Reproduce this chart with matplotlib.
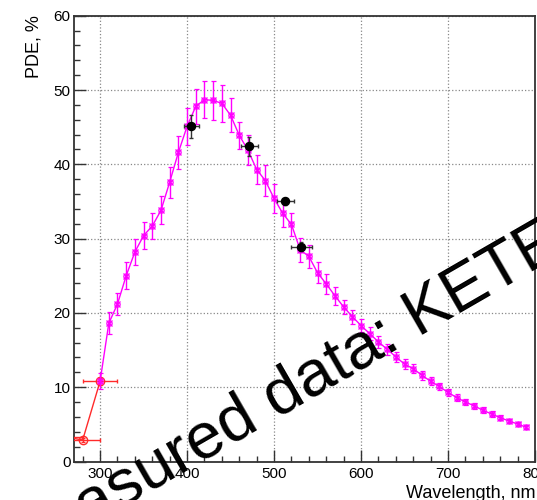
import matplotlib
matplotlib.use('Agg')
import matplotlib.pyplot as plt
from matplotlib.ticker import MultipleLocator

plt.rcParams['font.family'] = ['Liberation Sans', 'DejaVu Sans']

# simulated / reference PDE curve (magenta)
wl = [300, 310, 320, 330, 340, 350, 360, 370, 380, 390,
      400, 410, 420, 430, 440, 450, 460, 470, 480, 490,
      500, 510, 520, 530, 540, 550, 560, 570, 580, 590,
      600, 610, 620, 630, 640, 650, 660, 670, 680, 690,
      700, 710, 720, 730, 740, 750, 760, 770, 780, 790]
pde = [10.8, 18.6, 21.2, 25.0, 28.2, 30.4, 31.7, 33.8, 37.6, 41.6,
       45.1, 47.8, 48.7, 48.6, 48.2, 46.6, 43.9, 41.9, 39.3, 37.8,
       35.4, 33.4, 31.9, 28.5, 27.6, 25.4, 23.9, 22.3, 20.8, 19.5,
       18.3, 17.2, 16.1, 15.1, 14.1, 13.1, 12.5, 11.6, 10.8, 10.1,
       9.3, 8.6, 8.0, 7.5, 6.9, 6.4, 5.9, 5.45, 5.05, 4.6]
pde_err = [1.1, 1.5, 1.5, 1.8, 1.75, 1.8, 1.8, 1.9, 2.1, 2.2,
           2.5, 2.4, 2.5, 2.6, 2.5, 2.3, 1.8, 2.0, 2.0, 2.1,
           1.9, 1.8, 1.6, 1.6, 1.5, 1.4, 1.35, 1.25, 1.0, 0.95,
           0.9, 0.85, 0.8, 0.75, 0.7, 0.65, 0.62, 0.58, 0.55, 0.5,
           0.48, 0.45, 0.42, 0.4, 0.37, 0.35, 0.32, 0.3, 0.28, 0.25]

# measured points (black)
meas_wl = [405, 471.5, 513, 531.5]
meas_pde = [45.1, 42.4, 35.0, 28.9]
meas_xerr = [9, 10, 10, 12]
meas_yerr = [1.5, 1.3, 0.5, 0.6]

# UV points (red)
uv_wl = [260, 280, 300]
uv_pde = [3.3, 2.9, 10.8]
uv_xerr = [20, 20, 20]
uv_yerr = [0.3, 0.3, 0.5]

fig = plt.figure(figsize=(5.37, 5.0), dpi=100)
ax = fig.add_axes([74 / 537, 1 - 461.5 / 500, 461 / 537, 445.8 / 500])

ax.errorbar(uv_wl, uv_pde, xerr=uv_xerr, yerr=uv_yerr, color='#ff2a2a', lw=1,
            marker='o', ms=6, mfc='none', mew=1, capsize=1.5, zorder=3)
ax.errorbar(wl, pde, yerr=pde_err, color='#ff00ff', lw=1, marker='o', ms=3.8,
            mfc='none', mew=0.9, capsize=1.8, elinewidth=1, zorder=4)
ax.plot(wl, pde, ls='none', marker='x', ms=4.4, mew=0.9, color='#ff00ff', zorder=4)
ax.errorbar(meas_wl, meas_pde, xerr=meas_xerr, yerr=meas_yerr, fmt='o', color='black',
            ms=5.8, ecolor='#333333', elinewidth=1, capsize=1.5, zorder=5)

ax.set_xlim(270, 800)
ax.set_ylim(0, 60)
ax.xaxis.set_major_locator(MultipleLocator(100))
ax.xaxis.set_minor_locator(MultipleLocator(20))
ax.yaxis.set_major_locator(MultipleLocator(10))
ax.yaxis.set_minor_locator(MultipleLocator(2))
ax.tick_params(which='both', direction='in', top=False, right=False,
               color='#333333', labelsize=11)
ax.tick_params(which='major', length=8.6, width=1)
ax.tick_params(which='minor', length=4.3, width=1)
ax.tick_params(axis='x', pad=4)
ax.tick_params(axis='y', pad=2.5)
ax.grid(True, which='major', ls=':', color='#888888', lw=0.9)
ax.set_axisbelow(True)
for s in ax.spines.values():
    s.set_color('#333333')
    s.set_linewidth(1.3)

fig.text(536 / 537, 0.004, 'Wavelength, nm', ha='right', va='baseline', fontsize=13)
fig.text(33.7 / 537, 0.97, 'PDE, %', rotation=90, ha='center', va='top', fontsize=13)

fig.text(9.5 / 537, 1 - 572.7 / 500, 'Measured data: KETEK', rotation=30,
         rotation_mode='anchor', ha='left', va='baseline', fontsize=47)

fig.savefig('out.png', dpi=100)
